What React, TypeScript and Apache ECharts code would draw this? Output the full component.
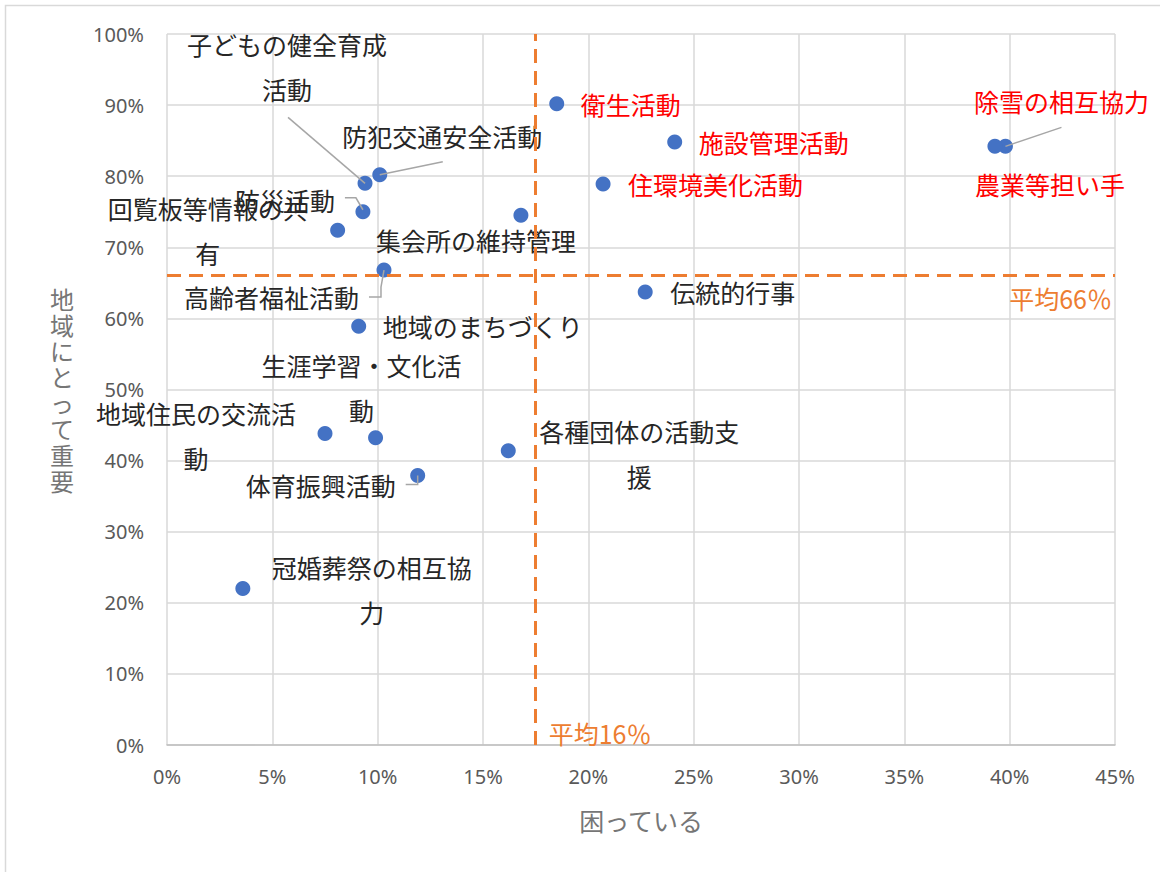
import React, { useEffect, useRef } from 'react';
import * as echarts from 'echarts';

// ---- data ----
const activityNames = [
  '衛生活動', '施設管理活動', '住環境美化活動', '除雪の相互協力', '農業等担い手', '伝統的行事',
  '子どもの健全育成活動', '防犯交通安全活動', '防災活動', '回覧板等情報の共有', '集会所の維持管理',
  '高齢者福祉活動', '地域のまちづくり', '生涯学習・文化活動', '地域住民の交流活動',
  '各種団体の活動支援', '体育振興活動', '冠婚葬祭の相互協力',
];
const troubledPct = [18.5, 24.1, 20.7, 39.8, 39.3, 22.7, 9.4, 10.1, 9.3, 8.1, 16.8, 10.3, 9.1, 9.9, 7.5, 16.2, 11.9, 3.6];
const importantPct = [90.2, 84.8, 78.9, 84.2, 84.2, 63.7, 79.0, 80.2, 75.0, 72.4, 74.5, 66.8, 58.9, 43.2, 43.8, 41.4, 37.9, 22.0];
const highlightedNames = ['衛生活動', '施設管理活動', '住環境美化活動', '除雪の相互協力', '農業等担い手'];

const averageTroubled = 17.5;
const averageTroubledLabel = '平均16％';
const averageImportant = 66.1;
const averageImportantLabel = '平均66％';

const xAxisTitle = '困っている';
const yAxisTitle = '地域にとって重要';

// ---- label placement (pixel offsets relative to each point; styling only) ----
type LabelLayout = { dx: number; dy: number; align: 'left' | 'center' | 'right'; wrapAt?: number; leader?: number[][] };
const labelLayouts: Record<string, LabelLayout> = {
  '衛生活動': { dx: 24, dy: 0, align: 'left' },
  '施設管理活動': { dx: 24, dy: 0, align: 'left' },
  '住環境美化活動': { dx: 25, dy: 0, align: 'left' },
  '除雪の相互協力': { dx: 56, dy: -45, align: 'center', leader: [[56, -19], [0, 0]] },
  '農業等担い手': { dx: 55, dy: 38, align: 'center' },
  '伝統的行事': { dx: 25, dy: 0, align: 'left' },
  '子どもの健全育成活動': { dx: -78, dy: -116.5, align: 'center', wrapAt: 8, leader: [[-77, -66], [0, 0]] },
  '防犯交通安全活動': { dx: 62.5, dy: -39, align: 'center', leader: [[63, -13], [0, 0]] },
  '防災活動': { dx: -28, dy: -12, align: 'right', leader: [[-18, -14], [-7, -14], [0, -2]] },
  '回覧板等情報の共有': { dx: -130, dy: 0, align: 'center', wrapAt: 8 },
  '集会所の維持管理': { dx: -45, dy: 25, align: 'center' },
  '高齢者福祉活動': { dx: -25, dy: 27, align: 'right', leader: [[-15, 27], [-3, 27], [-3, 17], [0, 0]] },
  '地域のまちづくり': { dx: 24, dy: 0, align: 'left' },
  '生涯学習・文化活動': { dx: -14, dy: -50, align: 'center', wrapAt: 8 },
  '地域住民の交流活動': { dx: -129, dy: 2, align: 'center', wrapAt: 8 },
  '各種団体の活動支援': { dx: 131, dy: 2.5, align: 'center', wrapAt: 8 },
  '体育振興活動': { dx: -22, dy: 9, align: 'right', leader: [[-12, 9], [0, 9], [0, 0]] },
  '冠婚葬祭の相互協力': { dx: 129, dy: 1, align: 'center', wrapAt: 8 },
};

const CJK = '"Noto Sans CJK JP", "Noto Sans", sans-serif';
const NUM = '"Noto Sans", "Noto Sans CJK JP", sans-serif';
const LABEL_SIZE = 25;

export default function App() {
  const ref = useRef<HTMLDivElement>(null);

  useEffect(() => {
    if (!ref.current) return;
    const chart = echarts.init(ref.current, null, { renderer: 'svg' });
    const points = troubledPct.map((x, i) => [x, importantPct[i]]);

    const option: any = {
      animation: false,
      backgroundColor: '#ffffff',
      grid: { left: 167, right: 45, top: 34, bottom: 127, containLabel: false },
      graphic: [
        {
          type: 'rect',
          shape: { x: 5.5, y: 5.5, width: 1400, height: 1100 },
          style: { fill: 'none', stroke: '#D9D9D9', lineWidth: 1.5 },
          silent: true,
        },
      ],
      xAxis: {
        type: 'value',
        min: 0,
        max: 45,
        interval: 5,
        name: xAxisTitle,
        nameLocation: 'middle',
        nameGap: 75,
        nameTextStyle: { color: '#767676', fontSize: 25, fontFamily: CJK, verticalAlign: 'middle' },
        axisLabel: { formatter: '{value}%', color: '#595959', fontSize: 20, margin: 21, fontFamily: NUM },
        axisLine: { show: true, lineStyle: { color: '#BFBFBF', width: 1.5 } },
        axisTick: { show: false },
        splitLine: { show: true, lineStyle: { color: '#D9D9D9', width: 1.5 } },
      },
      yAxis: {
        type: 'value',
        min: 0,
        max: 100,
        interval: 10,
        name: yAxisTitle.split('').join('\n'),
        nameLocation: 'middle',
        nameGap: 105,
        nameRotate: 0,
        nameTextStyle: { color: '#767676', fontSize: 24, fontFamily: CJK, align: 'center', verticalAlign: 'middle', lineHeight: 26 },
        axisLabel: { formatter: '{value}%', color: '#595959', fontSize: 20, margin: 23, fontFamily: NUM },
        axisLine: { show: false },
        axisTick: { show: false },
        splitLine: { show: true, lineStyle: { color: '#D9D9D9', width: 1.5 } },
      },
      series: [
        {
          type: 'scatter',
          data: [],
          z: 1,
          silent: true,
          markLine: {
            silent: true,
            symbol: 'none',
            label: { show: false },
            lineStyle: { color: '#ED7D31', width: 3, type: [14, 8] },
            data: [{ xAxis: averageTroubled }, { yAxis: averageImportant }],
          },
        },
        {
          type: 'scatter',
          data: points,
          z: 2,
          symbol: 'circle',
          symbolSize: 15,
          itemStyle: { color: '#4472C4', opacity: 1 },
          silent: true,
        },
        {
          type: 'custom',
          z: 3,
          silent: true,
          clip: false,
          data: points,
          encode: { x: 0, y: 1 },
          renderItem: (params: any, api: any) => {
            const i = params.dataIndex;
            const p = api.coord([api.value(0), api.value(1)]);
            const name = activityNames[i];
            const lay = labelLayouts[name];
            const text = lay.wrapAt ? name.slice(0, lay.wrapAt) + '\n' + name.slice(lay.wrapAt) : name;
            const children: any[] = [];
            if (lay.leader) {
              children.push({
                type: 'polyline',
                shape: { points: lay.leader.map(([dx, dy]) => [p[0] + dx, p[1] + dy]) },
                style: { stroke: '#A6A6A6', lineWidth: 1.5, fill: null },
              });
            }
            children.push({
              type: 'text',
              x: p[0] + lay.dx,
              y: p[1] + lay.dy,
              style: {
                text,
                fill: highlightedNames.includes(name) ? '#FF0000' : '#262626',
                fontSize: LABEL_SIZE,
                fontFamily: CJK,
                align: lay.align,
                verticalAlign: 'middle',
                lineHeight: 45,
              },
            });
            return { type: 'group', children };
          },
        },
        {
          type: 'custom',
          z: 4,
          silent: true,
          clip: false,
          data: [[averageTroubled, 0], [45, averageImportant]],
          encode: { x: 0, y: 1 },
          renderItem: (params: any, api: any) => {
            const i = params.dataIndex;
            const p = api.coord([api.value(0), api.value(1)]);
            const isVertical = i === 0;
            return {
              type: 'text',
              x: p[0] + (isVertical ? 13 : -3),
              y: p[1] + (isVertical ? -12 : 23),
              style: {
                text: isVertical ? averageTroubledLabel : averageImportantLabel,
                fill: '#ED7D31',
                fontSize: LABEL_SIZE,
                fontFamily: CJK,
                align: isVertical ? 'left' : 'right',
                verticalAlign: 'middle',
              },
            };
          },
        },
      ],
    };
    chart.setOption(option);
    return () => chart.dispose();
  }, []);

  return (
    <div
      ref={ref}
      style={{ position: 'absolute', left: 0, top: 0, width: 1160, height: 872, background: '#fff' }}
    />
  );
}
